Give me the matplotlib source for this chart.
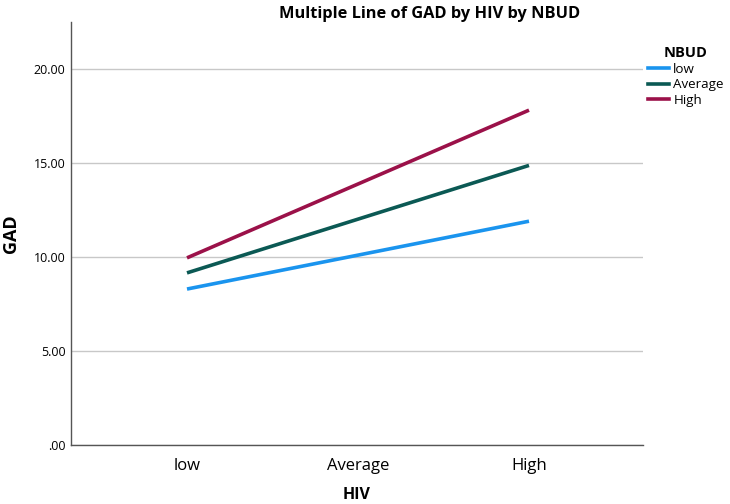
import matplotlib
matplotlib.use("Agg")
import matplotlib.pyplot as plt
from matplotlib.lines import Line2D

categories = ["low", "Average", "High"]
series_names = ["low", "Average", "High"]
x_idx = [0, 2]  # data present at 'low' and 'High'
low_vals = [8.30, 11.91]
avg_vals = [9.16, 14.88]
high_vals = [9.96, 17.82]
yticks = [0, 5, 10, 15, 20]
ytick_labels = [".00", "5.00", "10.00", "15.00", "20.00"]

colors = ["#1a94ee", "#0b5954", "#9b1149"]

plt.rcParams['font.family'] = ['Open Sans', 'DejaVu Sans']

fig = plt.figure(figsize=(7.3, 5.04), dpi=100)
W, H = 730, 504
left, right, top, bottom = 71, 643, 22, 445
ax = fig.add_axes([left / W, 1 - bottom / H, (right - left) / W, (bottom - top) / H])

for vals, c in zip([low_vals, avg_vals, high_vals], colors):
    ax.plot(x_idx, vals, color=c, lw=2.6, solid_capstyle='butt')

x0, x2 = 187, 529
sp = (x2 - x0) / 2
ax.set_xlim(-(x0 - left) / sp, 2 + (right - x2) / sp)
ax.set_ylim(0, (445 - top) / 18.79)
ax.set_xticks(range(3))
ax.set_xticklabels(categories, fontsize=12)
ax.set_yticks(yticks)
ax.set_yticklabels(ytick_labels, fontsize=9)
ax.tick_params(axis='y', length=0, pad=4)
ax.tick_params(axis='x', length=0, pad=9)
ax.yaxis.grid(True, color='#c8c8c8', lw=1)
ax.set_axisbelow(True)
for s in ['top', 'right']:
    ax.spines[s].set_visible(False)
for s in ['left', 'bottom']:
    ax.spines[s].set_color('#555555')
    ax.spines[s].set_linewidth(1)
ax.set_ylabel("GAD", fontsize=13, fontweight='bold', labelpad=10)
ax.set_xlabel("HIV", fontsize=11.5, fontweight='bold', labelpad=10)

fig.text(430 / W, 1 - 14 / H, "Multiple Line of GAD by HIV by NBUD", fontsize=11.8,
         fontweight='bold', ha='center', va='center')

handles = [Line2D([], [], color=c, lw=2.6) for c in colors]
leg = fig.legend(handles, series_names, title="NBUD", loc='upper left',
                 bbox_to_anchor=(636 / W, 1 - 34 / H), frameon=False, fontsize=9.6,
                 handlelength=1.6, handletextpad=0.3, labelspacing=0.2,
                 title_fontproperties={'weight': 'bold', 'size': 10.5})

fig.savefig("out.png", dpi=100)
